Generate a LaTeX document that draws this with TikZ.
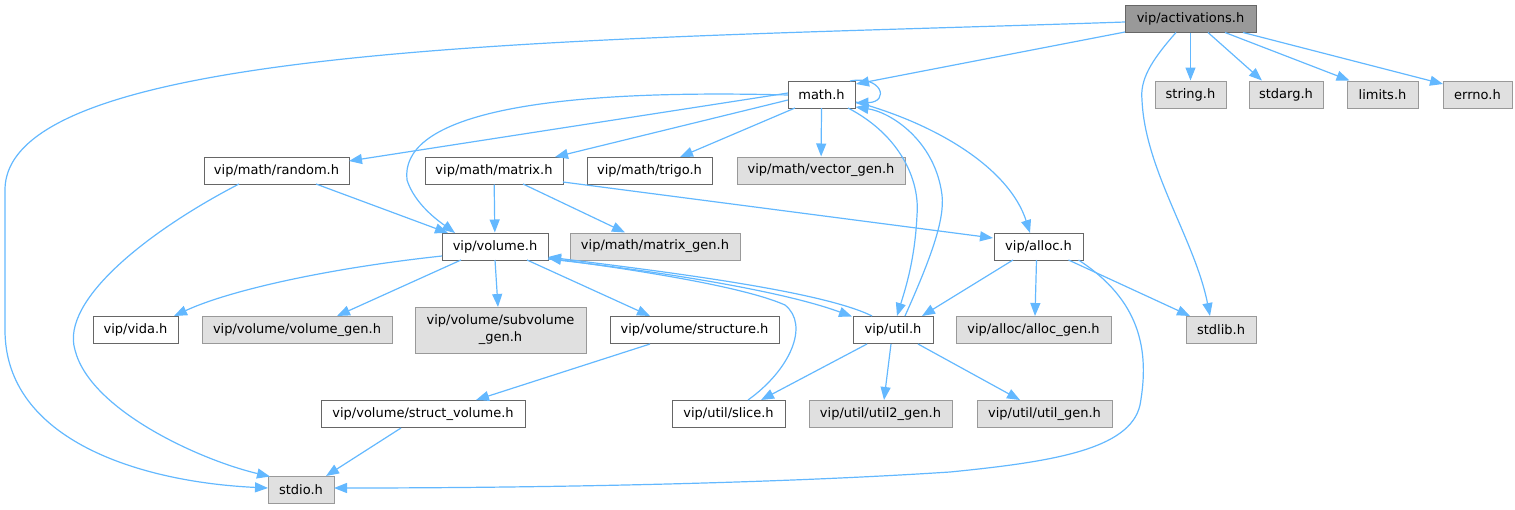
\documentclass[tikz,border=0pt]{standalone}
\usepackage{fontspec}
\setmainfont{DejaVu Sans}
\usetikzlibrary{arrows.meta,calc}
\definecolor{bordDark}{HTML}{666666}
\definecolor{bordLight}{HTML}{999999}
\definecolor{fillGrey}{HTML}{E0E0E0}
\definecolor{fillCur}{HTML}{999999}
\definecolor{edgeBlue}{HTML}{63B8FF}
\tikzset{
  box/.style={draw=bordDark, fill=white, line width=1pt, inner sep=0pt,
    minimum height=27pt, font=\fontsize{13}{15}\selectfont, text=black, align=center},
  extbox/.style={box, draw=bordLight, fill=fillGrey},
  curbox/.style={box, draw=bordDark, fill=fillCur},
  dep/.style={draw=edgeBlue, line width=1.2pt, -{Triangle[length=13pt,width=10pt]}},
}
\begin{document}
\begin{tikzpicture}[x=1pt,y=-1pt]
\useasboundingbox (0,0) rectangle (1515,509);
% nodes
\node[curbox, minimum width=131pt] (act) at (1190.5,18.5) {vip/activations.h};
\node[box, minimum width=67pt] (math) at (821.5,94.5) {math.h};
\node[extbox, minimum width=71pt] (string) at (1190.5,94.5) {string.h};
\node[extbox, minimum width=74pt] (stdarg) at (1286,94.5) {stdarg.h};
\node[extbox, minimum width=71pt] (limits) at (1382.5,94.5) {limits.h};
\node[extbox, minimum width=69pt] (errno) at (1477.5,94.5) {errno.h};
\node[box, minimum width=145pt] (random) at (276.5,170.5) {vip/math/random.h};
\node[box, minimum width=138pt] (matrix) at (494,170.5) {vip/math/matrix.h};
\node[box, minimum width=125pt] (trigo) at (649.5,170.5) {vip/math/trigo.h};
\node[extbox, minimum width=168pt] (vecgen) at (821,170.5) {vip/math/vector\_gen.h};
\node[box, minimum width=106pt] (volume) at (495,246.5) {vip/volume.h};
\node[extbox, minimum width=170pt] (mgen) at (655,246.5) {vip/math/matrix\_gen.h};
\node[box, minimum width=89pt] (alloc) at (1038.5,246.5) {vip/alloc.h};
\node[box, minimum width=85pt] (vida) at (135.5,330) {vip/vida.h};
\node[extbox, minimum width=190pt] (vgen) at (297,330) {vip/volume/volume\_gen.h};
\node[extbox, minimum width=171pt, minimum height=46pt, font=\fontsize{13}{17}\selectfont] (subvol) at (500.5,330) {vip/volume/subvolume\\\_gen.h};
\node[box, minimum width=169pt] (struct) at (694.5,330) {vip/volume/structure.h};
\node[box, minimum width=80pt] (util) at (893,330) {vip/util.h};
\node[extbox, minimum width=155pt] (agen) at (1033.5,330) {vip/alloc/alloc\_gen.h};
\node[extbox, minimum width=70pt] (stdlib) at (1221,330) {stdlib.h};
\node[box, minimum width=204pt] (svol) at (423,414) {vip/volume/struct\_volume.h};
\node[box, minimum width=113pt] (slice) at (728.5,414) {vip/util/slice.h};
\node[extbox, minimum width=143pt] (u2gen) at (880.5,414) {vip/util/util2\_gen.h};
\node[extbox, minimum width=135pt] (ugen) at (1044.5,414) {vip/util/util\_gen.h};
\node[extbox, minimum width=66pt] (stdio) at (301,490) {stdio.h};
% edges from activations
\draw[dep] ($(act)+(-65.5,3.5)$) .. controls (600,40) and (5,40) .. (5,190)
  -- (5,330) .. controls (5,440) and (140,482) .. ($(stdio)+(-33,-2)$);
\draw[dep] ($(act)+(-65.5,13.5)$) -- ($(math)+(34.5,-10.5)$);
\draw[dep] ($(act)+(-14.5,14)$) .. controls (1150,62) and (1140,80) .. (1142,100)
  .. controls (1145,170) and (1195,240) .. ($(stdlib)+(-11,-14)$);
\draw[dep] ($(act)+(0,14)$) -- (string);
\draw[dep] ($(act)+(17.5,14)$) -- ($(stdarg)+(-24,-14)$);
\draw[dep] ($(act)+(34.5,14)$) -- ($(limits)+(-33,-14)$);
\draw[dep] ($(act)+(52.5,14)$) -- ($(errno)+(-34.5,-10.5)$);
% edges from math
\draw[dep] ($(math)+(28.5,-13.5)$) .. controls (882,75) and (890,102) .. ($(math)+(34,8.5)$);
\draw[dep] ($(math)+(-33.5,-1.5)$) -- ($(random)+(72.5,-9.5)$);
\draw[dep] ($(math)+(-33.5,5.5)$) -- ($(matrix)+(61,-13.5)$);
\draw[dep] ($(math)+(-26.5,13.5)$) -- ($(trigo)+(30.5,-13.5)$);
\draw[dep] ($(math)+(0,13.5)$) -- (vecgen);
\draw[dep] ($(math)+(-33.5,0.5)$) .. controls (520,88) and (400,120) .. (407,180)
  .. controls (415,205) and (440,222) .. ($(volume)+(-40,-13.5)$);
\draw[dep] ($(math)+(26.5,13.5)$) .. controls (900,135) and (920,180) .. (917,215)
  .. controls (915,260) and (905,290) .. ($(util)+(4,-14)$);
\draw[dep] ($(math)+(34.5,7.5)$) .. controls (940,125) and (1010,170) .. ($(alloc)+(-8.5,-13.5)$);
% util -> math
\draw[dep] ($(util)+(12,-14)$) .. controls (930,260) and (945,220) .. (942,195)
  .. controls (935,140) and (890,112) .. ($(math)+(34,12.5)$);
% random
\draw[dep] ($(random)+(39.5,13.5)$) -- ($(volume)+(-47,-13.5)$);
\draw[dep] ($(random)+(-37.5,13.5)$) .. controls (150,230) and (60,300) .. (75,350)
  .. controls (90,410) and (200,460) .. ($(stdio)+(-31,-13.5)$);
% matrix
\draw[dep] (matrix) -- (volume);
\draw[dep] ($(matrix)+(29,13.5)$) -- ($(mgen)+(-30,-14)$);
\draw[dep] ($(matrix)+(69,11.5)$) -- ($(alloc)+(-45.5,-8.5)$);
% volume
\draw[dep] ($(volume)+(-53,9.5)$) .. controls (330,268) and (230,290) .. ($(vida)+(38.5,-14)$);
\draw[dep] ($(volume)+(-34,13.5)$) -- ($(vgen)+(40,-14)$);
\draw[dep] ($(volume)+(0,13.5)$) -- ($(subvol)+(-2.5,-23)$);
\draw[dep] ($(volume)+(32,13.5)$) -- ($(struct)+(-44.5,-14)$);
\draw[dep] ($(volume)+(53,12.5)$) .. controls (650,270) and (780,290) .. ($(util)+(-41,-13.5)$);
% back edges to volume
\draw[dep] ($(util)+(-21,-14)$) .. controls (820,290) and (650,270) .. ($(volume)+(53,10.5)$);
\draw[dep] ($(slice)+(19.5,-14)$) .. controls (790,370) and (810,325) .. (785,305)
  .. controls (740,285) and (620,268) .. ($(volume)+(53,11.5)$);
% structure
\draw[dep] ($(struct)+(-44.5,14)$) -- ($(svol)+(53,-14)$);
\draw[dep] ($(svol)+(-22,14)$) -- ($(stdio)+(25,-14)$);
% alloc
\draw[dep] ($(alloc)+(-25.5,13.5)$) -- ($(util)+(29,-14)$);
\draw[dep] ($(alloc)+(-2,13.5)$) -- ($(agen)+(1.5,-14)$);
\draw[dep] ($(alloc)+(30,13.5)$) -- ($(stdlib)+(-31,-14)$);
\draw[dep] ($(alloc)+(40,13.5)$) .. controls (1140,300) and (1150,350) .. (1140,405)
  .. controls (1130,450) and (1050,462) .. (950,472)
  .. controls (750,485) and (500,488) .. ($(stdio)+(33,-2)$);
% util
\draw[dep] ($(util)+(-26,14)$) -- ($(slice)+(32.5,-14)$);
\draw[dep] ($(util)+(-2,14)$) -- ($(u2gen)+(3.5,-14)$);
\draw[dep] ($(util)+(25,14)$) -- ($(ugen)+(-24.5,-14)$);
\end{tikzpicture}
\end{document}
